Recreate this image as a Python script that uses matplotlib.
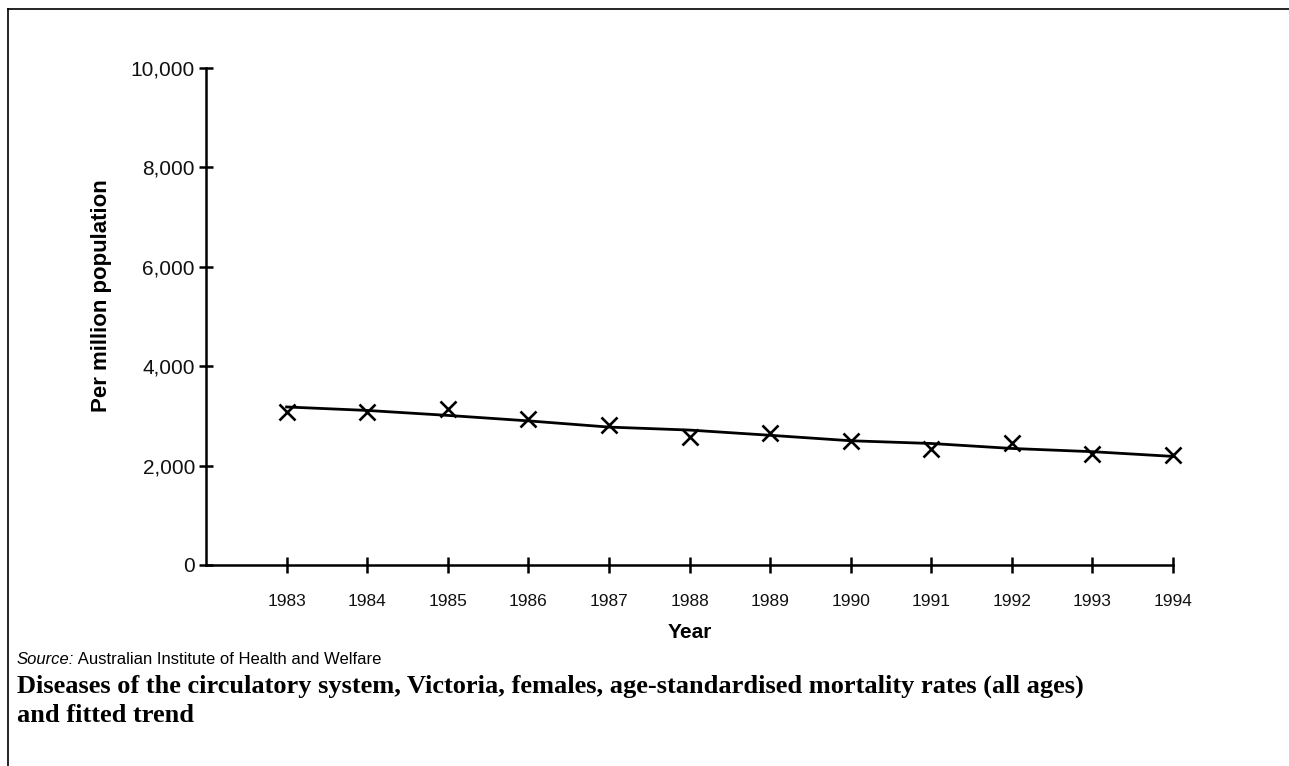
import matplotlib.pyplot as plt
from matplotlib.lines import Line2D
from matplotlib.ticker import FuncFormatter

# data
years = [1983, 1984, 1985, 1986, 1987, 1988, 1989, 1990, 1991, 1992, 1993, 1994]
rates = [3080, 3085, 3133, 2932, 2817, 2569, 2662, 2495, 2334, 2461, 2233, 2213]
trend = [3180, 3110, 3010, 2900, 2775, 2715, 2610, 2500, 2445, 2345, 2280, 2185]
y_ticks = [0, 2000, 4000, 6000, 8000, 10000]

plt.rcParams['font.family'] = ['Liberation Sans', 'DejaVu Sans']

W, H = 1289, 766
fig = plt.figure(figsize=(W / 100, H / 100), dpi=100)
ax = fig.add_axes([206 / W, 1 - 565 / H, (1173 - 206) / W, (565 - 68) / H])

ax.plot(years, trend, color='black', lw=2, clip_on=False)
ax.plot(years, rates, ls='none', marker='x', ms=11.5, mew=1.9, color='black', clip_on=False)

ax.set_xlim(1982, 1994)
ax.set_ylim(0, 10000)
ax.set_xticks(years)
ax.set_yticks(y_ticks)
ax.yaxis.set_major_formatter(FuncFormatter(lambda v, p: f'{v:,.0f}'))

for s in ['top', 'right']:
    ax.spines[s].set_visible(False)
for s in ['left', 'bottom']:
    ax.spines[s].set_linewidth(1.8)
ax.tick_params(axis='x', direction='inout', length=12, width=1.8, labelsize=12.5, pad=15)
ax.tick_params(axis='y', direction='inout', length=10, width=1.8, labelsize=15, pad=3)
for t in ax.get_yticklabels() + ax.get_xticklabels():
    t.set_color('#111111')

# axis titles
fig.text(690 / W, 1 - 632 / H, 'Year', fontsize=15, fontweight='bold', ha='center', va='center')
fig.text(101 / W, 1 - 296 / H, 'Per million population', fontsize=16, fontweight='bold',
         rotation=90, ha='center', va='center')

# source line
src = fig.text(17 / W, 1 - 660 / H, 'Source:', fontsize=12, style='italic', va='center')
ax.annotate(' Australian Institute of Health and Welfare', xy=(1, 0.5), xycoords=src,
            fontsize=12, va='center', ha='left', annotation_clip=False)

# caption
cap = ['Diseases of the circulatory system, Victoria, females, age-standardised mortality rates (all ages)',
       'and fitted trend']
for i, line in enumerate(cap):
    fig.text(17 / W, 1 - (686 + 29 * i) / H, line, fontsize=19, fontweight='bold',
             family='Liberation Serif', va='center')

# frame lines on the left and top
fig.add_artist(Line2D([8 / W, 8 / W], [0, 1 - 9 / H], color='black', lw=1.2, transform=fig.transFigure))
fig.add_artist(Line2D([8 / W, 1], [1 - 9 / H, 1 - 9 / H], color='black', lw=1.2, transform=fig.transFigure))

plt.savefig('out.png', dpi=100)
